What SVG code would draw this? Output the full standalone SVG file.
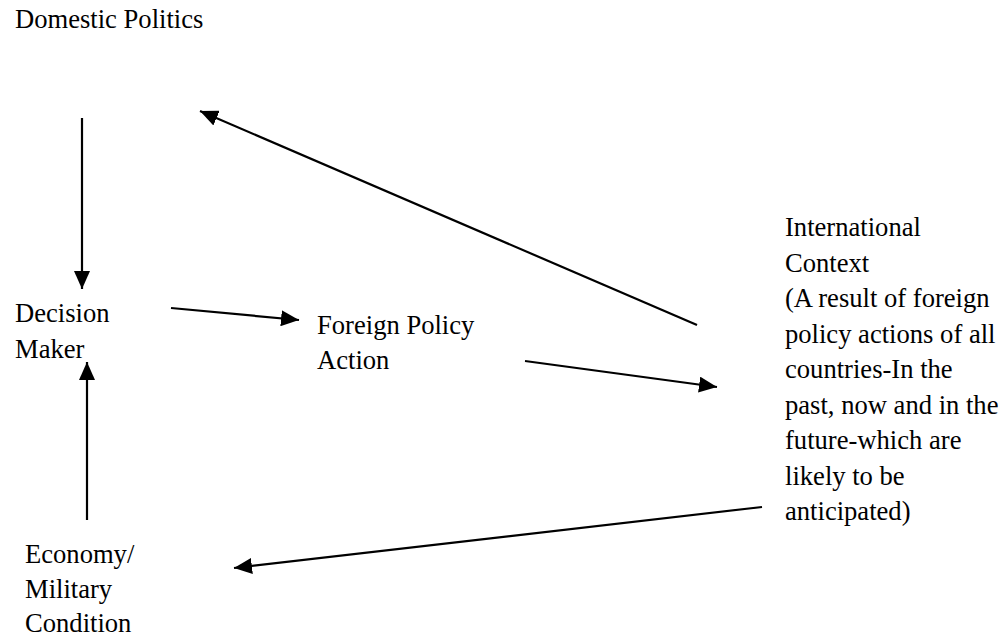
<svg xmlns="http://www.w3.org/2000/svg" width="1004" height="636" viewBox="0 0 1004 636">
<defs>
<style>
.t{font-family:"Liberation Serif","Times New Roman","DejaVu Serif",serif;font-size:26.6px;fill:#000}
.c line{stroke:#000;stroke-width:2.2}
</style>
<marker id="a" markerUnits="userSpaceOnUse" markerWidth="20" markerHeight="16" refX="18" refY="8" orient="auto" viewBox="0 0 20 16">
<path d="M0,0 L18,8 L0,16 z" fill="#000"/>
</marker>
</defs>
<rect width="1004" height="636" fill="#fff"/>
<g class="c" id="connectors">
<line x1="82" y1="118" x2="82" y2="289" marker-end="url(#a)"/>
<line x1="697" y1="325" x2="200" y2="111" marker-end="url(#a)"/>
<line x1="171" y1="308" x2="299" y2="320" marker-end="url(#a)"/>
<line x1="525" y1="361" x2="717" y2="387" marker-end="url(#a)"/>
<line x1="87" y1="520" x2="87" y2="362" marker-end="url(#a)"/>
<line x1="762" y1="507" x2="234" y2="568" marker-end="url(#a)"/>
</g>
<g class="t" font-family="Liberation Serif, serif">
<g id="domestic"><text x="15" y="28">Domestic Politics</text></g>
<g id="decision"><text x="15" y="322">Decision</text><text x="15" y="358">Maker</text></g>
<g id="fpa"><text x="317" y="334">Foreign Policy</text><text x="317" y="369">Action</text></g>
<g id="intl">
<text x="785" y="236">International</text>
<text x="785" y="271.5">Context</text>
<text x="785" y="307">(A result of foreign</text>
<text x="785" y="342.5">policy actions of all</text>
<text x="785" y="378">countries-In the</text>
<text x="785" y="413.5">past, now and in the</text>
<text x="785" y="449">future-which are</text>
<text x="785" y="484.5">likely to be</text>
<text x="785" y="520">anticipated)</text>
</g>
<g id="economy"><text x="25" y="563">Economy/</text><text x="25" y="598">Military</text><text x="25" y="632">Condition</text></g>
</g>
</svg>
